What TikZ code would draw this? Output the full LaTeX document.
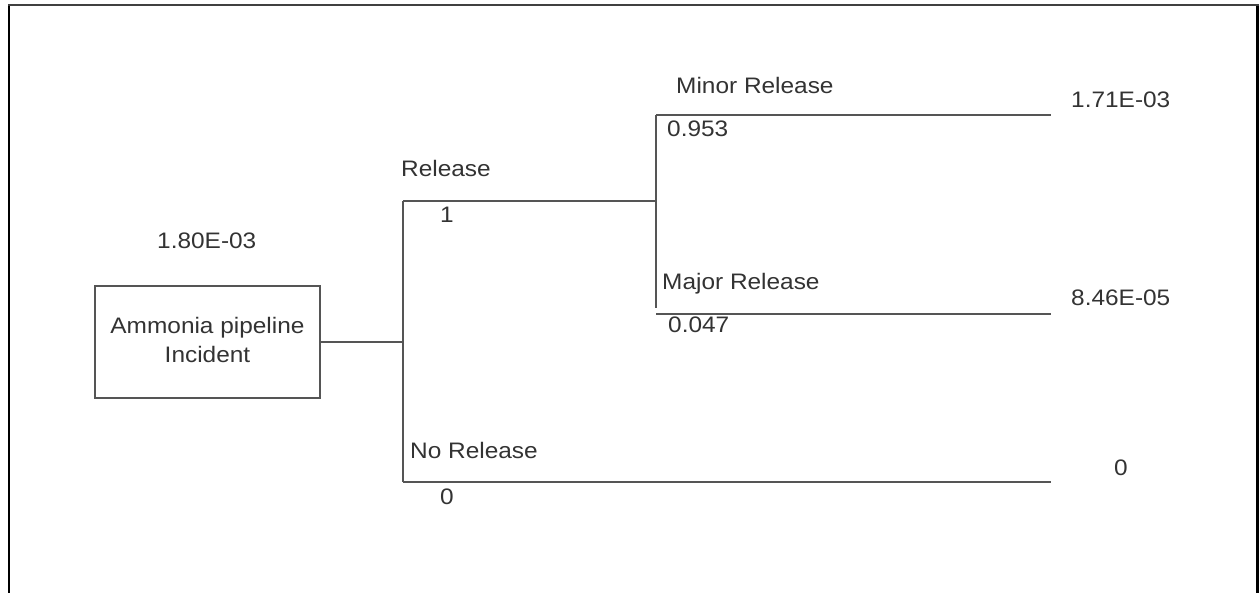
\documentclass[tikz,border=0pt]{standalone}
\usepackage{fontspec}
\setmainfont{Liberation Sans}[FakeStretch=1.09]
\definecolor{txtgray}{HTML}{333333}
\definecolor{linegray}{HTML}{555555}
\begin{document}
\begin{tikzpicture}[x=1pt,y=-1pt,
  lbl/.style={font=\fontsize{22.4}{29}\selectfont, text=txtgray, inner sep=0pt, anchor=base west},
  branch/.style={draw=linegray, line width=1.4pt},
  eventbox/.style={draw=linegray, line width=1.4pt, minimum width=225pt, minimum height=112pt,
    inner sep=0pt, align=center, text=txtgray, font=\fontsize{22.4}{29}\selectfont, text depth=5pt},
]
\useasboundingbox (0,0) rectangle (1259,593);
% frame
\draw[black, line width=2.5pt] (9,593) -- (9,5.3);
\draw[black, line width=2.5pt] (1257.5,593) -- (1257.5,5.3);
\draw[black!75, line width=2pt] (8,5.3) -- (1258.7,5.3);

% initiating event
\node[eventbox] (inc) at (207.5,342) {Ammonia pipeline\\Incident};
\node[lbl] (freq) at (157,249) {1.80E-03};

% coordinates of branches
\coordinate (j1) at (403,342);
\coordinate (r1) at (403,201);
\coordinate (n1) at (403,482);
\coordinate (j2) at (656,201);
\coordinate (m1) at (656,115);
\coordinate (m2) at (656,308);
\coordinate (m2s) at (656,314);
\coordinate (e1) at (1051,115);
\coordinate (e2) at (1051,314);
\coordinate (e3) at (1051,482);

\draw[branch] (inc.east) -- (j1);
\draw[branch] (r1) -- (n1);
\draw[branch] (r1) -- (j2);
\draw[branch] (n1) -- (e3);
\draw[branch] (m1) -- (m2);
\draw[branch] (m1) -- (e1);
\draw[branch] (m2s) -- (e2);

% labels
\node[lbl] (lrel) at (401,177) {Release};
\node[lbl] (prel) at (440,223) {1};
\node[lbl] (lno) at (410,459) {No Release};
\node[lbl] (pno) at (440,504) {0};
\node[lbl] (lmin) at (676,94) {Minor Release};
\node[lbl] (pmin) at (667,137) {0.953};
\node[lbl] (lmaj) at (662,290) {Major Release};
\node[lbl] (pmaj) at (668,333) {0.047};
\node[lbl] (o1) at (1071,108) {1.71E-03};
\node[lbl] (o2) at (1071,306) {8.46E-05};
\node[lbl] (o3) at (1114,476) {0};
\end{tikzpicture}
\end{document}
